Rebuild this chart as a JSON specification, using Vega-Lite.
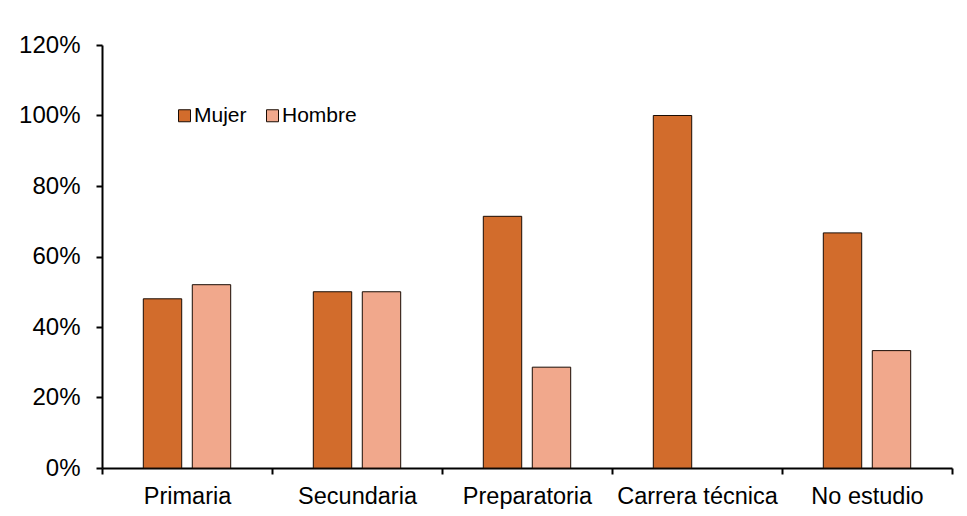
{
  "$schema": "https://vega.github.io/schema/vega-lite/v6.json",
  "width": 850,
  "height": 423,
  "autosize": {"type": "none"},
  "padding": {"left": 102, "top": 45, "right": 15, "bottom": 48},
  "background": "white",
  "data": {
    "values": [
      {"nivel": "Primaria", "sexo": "Mujer", "pct": 0.48},
      {"nivel": "Primaria", "sexo": "Hombre", "pct": 0.52},
      {"nivel": "Secundaria", "sexo": "Mujer", "pct": 0.5},
      {"nivel": "Secundaria", "sexo": "Hombre", "pct": 0.5},
      {"nivel": "Preparatoria", "sexo": "Mujer", "pct": 0.714},
      {"nivel": "Preparatoria", "sexo": "Hombre", "pct": 0.286},
      {"nivel": "Carrera técnica", "sexo": "Mujer", "pct": 1.0},
      {"nivel": "Carrera técnica", "sexo": "Hombre", "pct": 0.0},
      {"nivel": "No estudio", "sexo": "Mujer", "pct": 0.667},
      {"nivel": "No estudio", "sexo": "Hombre", "pct": 0.333}
    ]
  },
  "transform": [{"filter": "datum.pct > 0"}],
  "mark": {"type": "bar", "stroke": "#1a0c04", "strokeWidth": 1},
  "encoding": {
    "x": {
      "field": "nivel",
      "type": "nominal",
      "sort": ["Primaria", "Secundaria", "Preparatoria", "Carrera técnica", "No estudio"],
      "scale": {"paddingInner": 0, "paddingOuter": 0},
      "axis": {
        "title": null,
        "labelAngle": 0,
        "tickBand": "extent",
        "tickSize": 6,
        "tickColor": "black",
        "domainColor": "black",
        "domainWidth": 2,
        "tickWidth": 2,
        "labelFontSize": 23.5,
        "labelPadding": 10,
        "labelColor": "black",
        "labelFont": "Liberation Sans"
      }
    },
    "xOffset": {
      "field": "sexo",
      "type": "nominal",
      "sort": ["Mujer", "Hombre"],
      "scale": {"paddingInner": 0.216, "paddingOuter": 0.843}
    },
    "y": {
      "field": "pct",
      "type": "quantitative",
      "scale": {"domain": [0, 1.2], "nice": false},
      "axis": {
        "title": null,
        "values": [0, 0.2, 0.4, 0.6, 0.8, 1.0, 1.2],
        "format": ".0%",
        "grid": false,
        "tickSize": 6,
        "tickColor": "black",
        "domainColor": "black",
        "domainWidth": 2,
        "tickWidth": 2,
        "labelFontSize": 24,
        "labelPadding": 16,
        "labelColor": "black",
        "labelFont": "Liberation Sans"
      }
    },
    "color": {
      "field": "sexo",
      "type": "nominal",
      "sort": ["Mujer", "Hombre"],
      "scale": {"domain": ["Mujer", "Hombre"], "range": ["#d26c2c", "#f1a88c"]},
      "legend": {
        "title": null,
        "orient": "none",
        "legendX": 72,
        "legendY": 60,
        "direction": "horizontal",
        "padding": 0,
        "symbolType": "square",
        "symbolSize": 144,
        "symbolStrokeColor": "#1a0c04",
        "symbolStrokeWidth": 1,
        "labelFontSize": 21,
        "labelFont": "Liberation Sans",
        "labelColor": "black",
        "labelOffset": -1,
        "columnPadding": 15
      }
    }
  },
  "config": {
    "view": {"stroke": null},
    "font": "Liberation Sans"
  }
}
